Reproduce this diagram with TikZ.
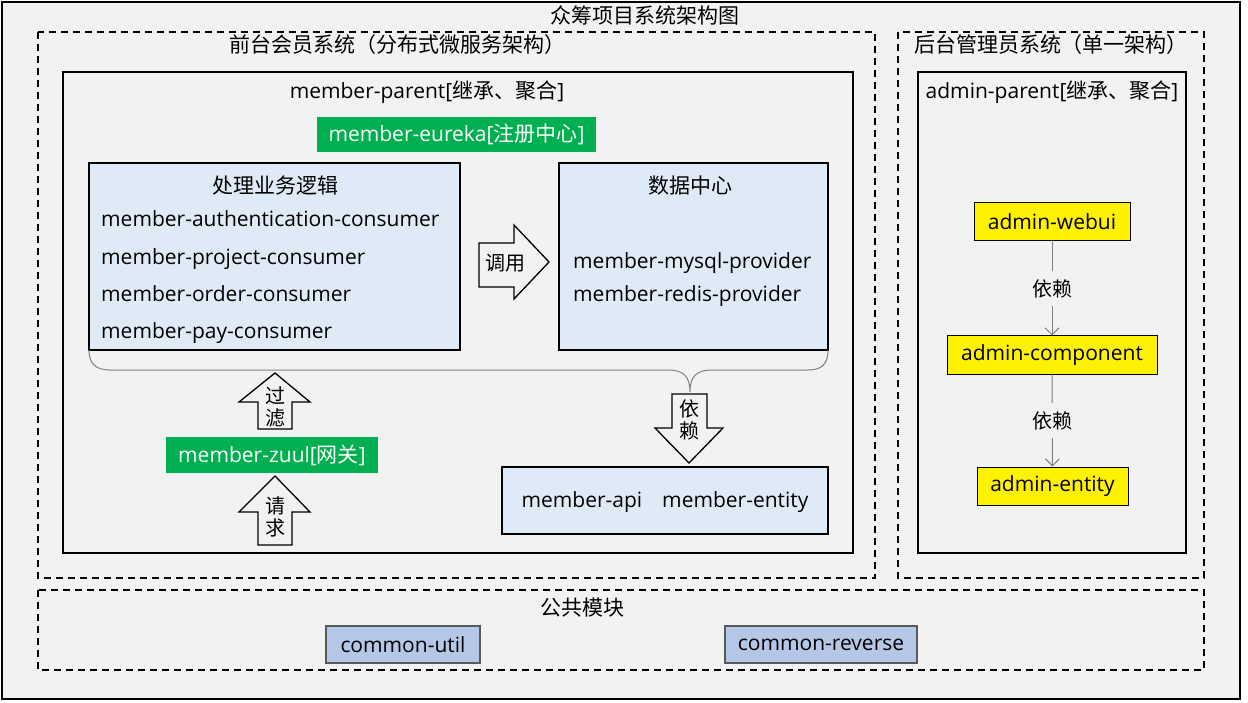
\documentclass[tikz,border=0pt]{standalone}
\usepackage{fontspec}
\setmainfont{Open Sans}
\newfontfamily\cjk{Noto Sans CJK SC}
\usetikzlibrary{positioning,arrows.meta}
\definecolor{bggray}{HTML}{F2F2F2}
\definecolor{bizblue}{HTML}{DEEBF7}
\definecolor{eurekagreen}{HTML}{00B050}
\definecolor{commonblue}{HTML}{B4C7E7}
\definecolor{linkgray}{HTML}{7F7F7F}

\begin{document}
\begin{tikzpicture}[x=1pt,y=-1pt,
    font=\fontsize{21}{25}\selectfont,
    every node/.style={inner sep=0pt},
    frame/.style={draw,line width=1.6pt},
    dashframe/.style={draw,line width=1.4pt,dash pattern=on 7pt off 5pt},
    bizbox/.style={draw,line width=1.6pt,fill=bizblue},
    greenbox/.style={fill=eurekagreen,text=white,minimum height=35pt},
    yellowbox/.style={draw,line width=1pt,fill=yellow,minimum height=38pt},
    commonbox/.style={draw=black!65,line width=1.2pt,fill=commonblue,minimum height=37pt},
    textline/.style={anchor=west,text height=15pt,text depth=5pt},
    blockarrow/.style={draw,line width=1.3pt,fill=bggray},
    link/.style={draw=linkgray,line width=1pt,-{Straight Barb[length=7pt,width=14pt]}},
    arrowtext/.style={font=\cjk\fontsize{20}{22}\selectfont,align=center}]
\useasboundingbox (0,0) rectangle (1248,703);
\fill[white] (0,0) rectangle (1248,703);
\draw[frame,fill=bggray] (2,2) rectangle (1240,699);
\node (title) at (645,15) {\cjk 众筹项目系统架构图};

% front system
\draw[dashframe] (38,32) rectangle (875,578);
\node (fronttitle) at (397,45) {\cjk 前台会员系统（分布式微服务架构）};
\draw[frame] (63,72) rectangle (853,553);
\node (memberparent) at (427,92) {member-parent[{\cjk 继承、聚合}]};
\node[greenbox,minimum width=279pt] (eureka) at (456.5,134.5) {member-eureka[{\cjk 注册中心}]};

\node[bizbox,minimum width=371pt,minimum height=187pt] (logic) at (274.5,256.5) {};
\node (logictitle) at (275,186) {\cjk 处理业务逻辑};
\foreach \name [count=\i] in {authentication,project,order,pay}
    \node[textline] at (101,{222+37.3*(\i-1)}) {member-\name-consumer};

\node[bizbox,minimum width=269pt,minimum height=187pt] (data) at (693.5,256.5) {};
\node (datatitle) at (690,186) {\cjk 数据中心};
\node[textline] (mysql) at (573,264) {member-mysql-provider};
\node[textline] (redis) at (573,297) {member-redis-provider};

% call arrow
\draw[blockarrow] (479,243) -- (514,243) -- (514,225) -- (549,262) -- (514,299) -- (514,287) -- (479,287) -- cycle;
\node[arrowtext] (call) at (505,263) {调用};

% brace under both boxes
\draw[linkgray,line width=1pt] (89,350) .. controls (89,364) and (96,370) .. (110,370) -- (668,370)
    .. controls (683,370) and (690,376) .. (690,392)
    .. controls (690,376) and (697,370) .. (712,370) -- (808,370)
    .. controls (822,370) and (828,364) .. (828,350);

% depend arrow
\draw[blockarrow] (672,394) -- (707,394) -- (707,428) -- (723,428) -- (689,463) -- (655,428) -- (672,428) -- cycle;
\node[arrowtext] (depend) at (689,420) {依\\赖};

% gateway
\draw[blockarrow] (258,429) -- (258,402) -- (239,402) -- (275,373) -- (310,402) -- (292,402) -- (292,429) -- cycle;
\node[arrowtext] (filter) at (275,407) {过\\滤};
\node[greenbox,minimum width=212pt,minimum height=36pt] (zuul) at (272,455) {member-zuul[{\cjk 网关}]};
\draw[blockarrow] (258,545) -- (258,512) -- (239,512) -- (275,476) -- (310,512) -- (292,512) -- (292,545) -- cycle;
\node[arrowtext] (request) at (275,517) {请\\求};

\node[bizbox,minimum width=326pt,minimum height=67pt,text height=17pt,text depth=3pt] (api) at (665,500.5) {member-api\hspace{20pt}member-entity};

% admin system
\draw[dashframe] (898,32) rectangle (1204,578);
\node (admintitle) at (1051,45) {\cjk 后台管理员系统（单一架构）};
\draw[frame] (918,72) rectangle (1186,553);
\node (adminparent) at (1052,92) {admin-parent[{\cjk 继承、聚合}]};
\node[yellowbox,minimum width=156pt] (webui) at (1052,222) {admin-webui};
\node[yellowbox,minimum width=210pt] (component) at (1052,355) {admin-component};
\node[yellowbox,minimum width=151pt] (entity) at (1052.5,486) {admin-entity};
\draw[link] (webui) -- node[fill=bggray,inner ysep=8pt,font=\cjk\fontsize{20}{23}\selectfont] {依赖} (component);
\draw[link] (component) -- node[fill=bggray,inner ysep=8pt,font=\cjk\fontsize{20}{23}\selectfont] {依赖} (entity);

% common modules
\draw[dashframe] (38,590) rectangle (1204,670);
\node (commontitle) at (582,608) {\cjk 公共模块};
\node[commonbox,minimum width=154pt] (util) at (403,644.5) {common-util};
\node[commonbox,minimum width=192pt] (reverse) at (821,644.5) {common-reverse};
\end{tikzpicture}
\end{document}
